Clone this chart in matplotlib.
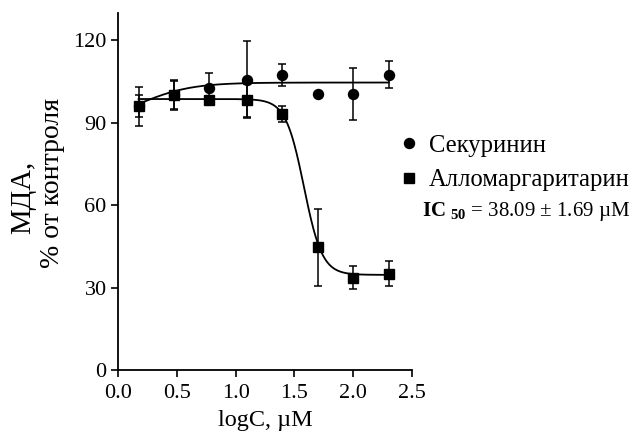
import numpy as np
import matplotlib.pyplot as plt

plt.rcParams['font.family'] = ['Liberation Serif', 'DejaVu Serif']
plt.rcParams['mathtext.fontset'] = 'custom'
plt.rcParams['mathtext.rm'] = 'Liberation Serif'
plt.rcParams['mathtext.bf'] = 'Liberation Serif:bold'

# data: logC and MDA (% of control), mean and error
log_c = [0.176, 0.477, 0.778, 1.097, 1.398, 1.699, 2.0, 2.301]
sek_mean = [96.0, 100.2, 102.8, 105.8, 107.6, 100.4, 100.4, 107.6]
sek_err = [7.0, 5.5, 5.5, 14.0, 4.0, 0.0, 9.5, 5.0]
allo_mean = [96.0, 100.2, 98.5, 98.2, 93.2, 44.8, 33.7, 35.1]
allo_err = [4.0, 5.0, 0.0, 6.0, 3.0, 14.0, 4.2, 4.5]

# fitted curve parameters: bottom, top, logEC50, hill
sek_fit = [90.0, 104.7, 0.2, 2.0]
allo_fit = [34.7, 98.7, 1.581, -5.6]

def logistic(x, p):
    bottom, top, mid, hill = p
    return bottom + (top - bottom) / (1 + 10 ** ((mid - x) * hill))

fig = plt.figure(figsize=(6.37, 4.34), dpi=100)
ax = fig.add_axes([0.185, 0.147, 0.462, 0.823])

xs = np.linspace(log_c[0], log_c[-1], 300)
ax.plot(xs, logistic(xs, sek_fit), color='black', lw=1.3)
ax.plot(xs, logistic(xs, allo_fit), color='black', lw=1.3)

ax.errorbar(log_c, sek_mean, yerr=sek_err, fmt='none', ecolor='black',
            capsize=3, elinewidth=1.1, capthick=1.1)
ax.errorbar(log_c, allo_mean, yerr=allo_err, fmt='none', ecolor='black',
            capsize=3, elinewidth=1.1, capthick=1.1)
ax.plot(log_c, sek_mean, 'o', color='black', ms=7.2, label='Секуринин')
ax.plot(log_c, allo_mean, 's', color='black', ms=7.2, label='Алломаргаритарин')

ax.set_xlim(0, 2.5)
ax.set_ylim(0, 130)
ax.set_xticks([0.0, 0.5, 1.0, 1.5, 2.0, 2.5])
ax.set_xticklabels(['0.0', '0.5', '1.0', '1.5', '2.0', '2.5'])
ax.set_yticks([0, 30, 60, 90, 120])
ax.spines['top'].set_visible(False)
ax.spines['right'].set_visible(False)
ax.spines['left'].set_linewidth(1.3)
ax.spines['bottom'].set_linewidth(1.3)
ax.tick_params(labelsize=16, width=1.2, length=5, direction='out', pad=3)
ax.tick_params(axis='x', pad=5)

ax.set_xlabel('logC, µM', fontsize=17.5, labelpad=5)

fig.text(0.036, 0.546, 'МДА,', rotation=90, fontsize=20.7, ha='center', va='center')
fig.text(0.082, 0.578, '% от контроля', rotation=90, fontsize=20, ha='center', va='center')

ax.legend(loc='upper left', bbox_to_anchor=(0.622, 0.69), bbox_transform=fig.transFigure,
          frameon=False, fontsize=17.7, handletextpad=0.34, handlelength=1.0,
          labelspacing=0.5, borderpad=0, borderaxespad=0)
fig.text(0.662, 0.513, r'$\mathbf{IC}_{\ \mathbf{50}}$' + ' = 38.09 ± 1.69 µM', fontsize=15,
         ha='left', va='center')

fig.savefig('out.png', dpi=100)
